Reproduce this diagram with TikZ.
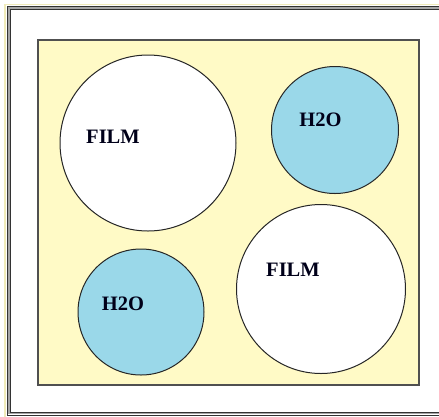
\documentclass[tikz,border=0pt]{standalone}
\usepackage{fontspec}
\setmainfont{Liberation Serif}
\definecolor{paleyellow}{HTML}{FFFAC6}
\definecolor{waterblue}{HTML}{9AD8E9}
\definecolor{framegray}{HTML}{505050}
\tikzset{
  blob/.style={circle, draw=black!85, line width=1pt, inner sep=0pt},
  filmblob/.style={blob, fill=white},
  waterblob/.style={blob, fill=waterblue},
  lbl/.style={font=\bfseries\fontsize{20.5}{22}\selectfont, text=black!90!blue, inner sep=0pt}
}
\begin{document}
\begin{tikzpicture}[x=1pt,y=-1pt]
\useasboundingbox (0,0) rectangle (439,416);
\fill[white] (0,0) rectangle (439,416);
% outer frame
\draw[paleyellow!80!black!30!paleyellow, line width=1.2pt] (5,4.5) rectangle (470,418);
\draw[black!80, line width=1pt] (7.5,6.5) rectangle (470,415);
\draw[black!35, line width=1.5pt] (9,8) rectangle (470,413.5);
\draw[black!80, line width=1pt] (10.5,9.5) rectangle (470,412);
% yellow panel
\draw[framegray, line width=1.3pt, fill=paleyellow] (38,40) rectangle (419,385);
% circles
\node[filmblob, minimum size=176pt] (film1) at (148,143) {};
\node[waterblob, minimum size=127pt] (water1) at (335,130) {};
\node[waterblob, minimum size=126pt] (water2) at (141,312) {};
\node[filmblob, minimum size=169pt] (film2) at (321,289) {};
% labels
\node[lbl] (t1) at (113,137) {FILM};
\node[lbl] (t2) at (320.5,120) {H2O};
\node[lbl] (t3) at (293,269.5) {FILM};
\node[lbl] (t4) at (123,304) {H2O};
\end{tikzpicture}
\end{document}
